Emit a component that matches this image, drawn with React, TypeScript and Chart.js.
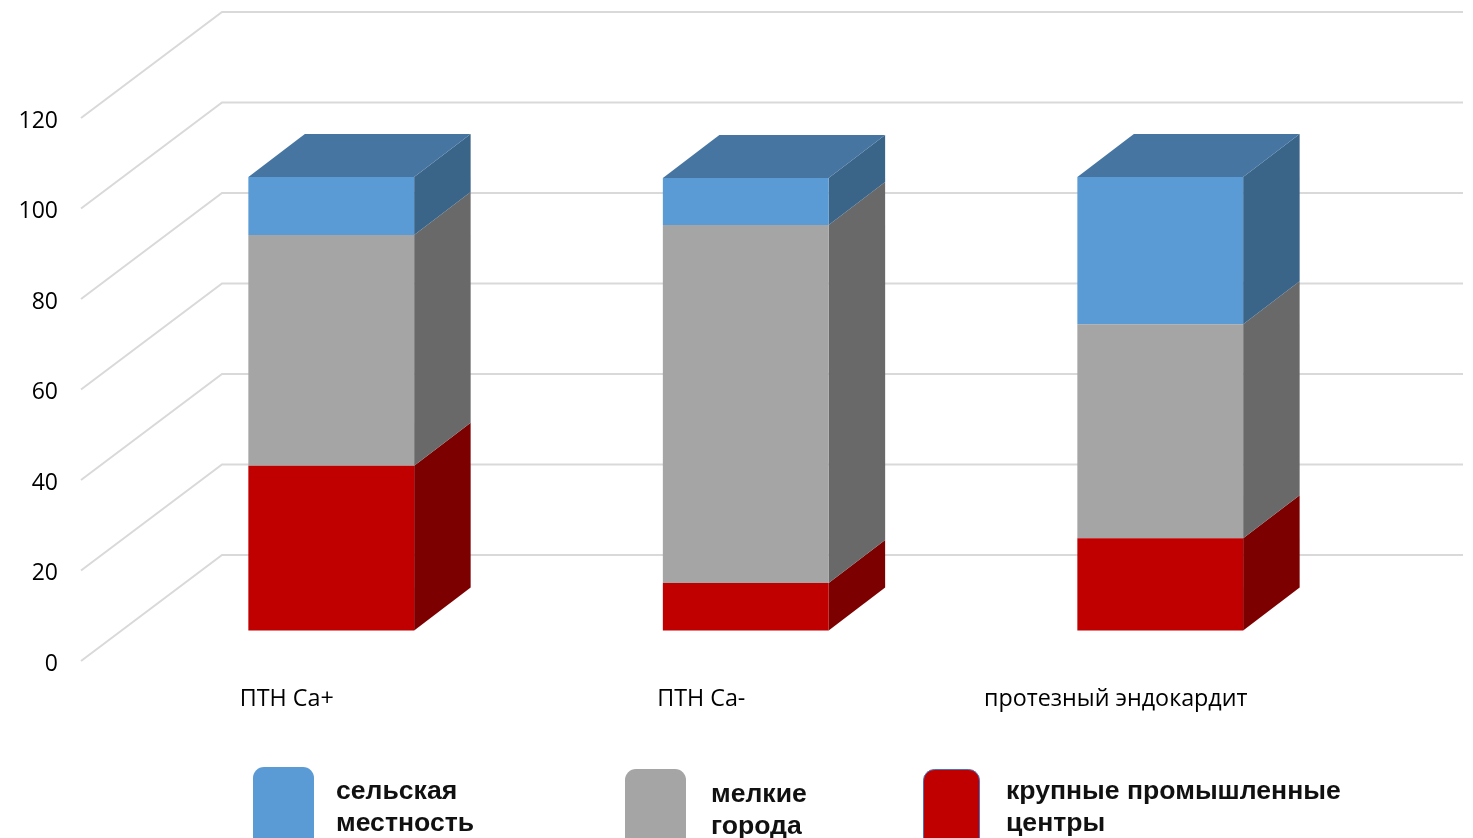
import React, { useEffect, useRef } from "react";
import { Chart, registerables } from "chart.js";

Chart.register(...registerables);

const categories = ["ПТН Ca+", "ПТН Ca-", "протезный эндокардит"];
const industrialCentres = [36.4, 10.5, 20.4];
const smallTowns = [51, 79.1, 47.3];
const countryside = [12.8, 10.4, 32.5];

const seriesLabels = ["крупные промышленные центры", "мелкие города", "сельская местность"];
const frontColors = ["#C00000", "#A5A5A5", "#5B9BD5"];
const sideColors = ["#7C0000", "#696969", "#3A6488"];
const topColor = "#4675A1";

// Perspective of the floor and of the boxes standing on it.
const WALL_DX = 141;
const WALL_DY = 106;
const WALL_RIGHT = 1463;
const BOX_SHIFT_X = 43;
const BOX_SHIFT_Y = 30.5;
const BOX_DX = 56.5;
const BOX_DY = 43;

const legendEntries = [
  { series: 2, lines: ["сельская", "местность"], box: [253, 767, 61, 90], textX: 336, textY: 792, border: null },
  { series: 1, lines: ["мелкие", "города"], box: [625, 769, 61, 90], textX: 711, textY: 795, border: null },
  { series: 0, lines: ["крупные промышленные", "центры"], box: [923.5, 769.5, 56, 90], textX: 1006, textY: 792, border: "#4472C4" },
];

const poly = (ctx: CanvasRenderingContext2D, pts: number[][], fill: string) => {
  ctx.beginPath();
  pts.forEach(([x, y], i) => (i ? ctx.lineTo(x, y) : ctx.moveTo(x, y)));
  ctx.closePath();
  ctx.fillStyle = fill;
  ctx.fill();
};

const boxesAndWalls = {
  id: "boxesAndWalls",
  beforeDatasetsDraw(chart: any) {
    const { ctx, scales } = chart;
    const yScale = scales.y;
    const left = chart.chartArea.left;

    ctx.save();
    ctx.strokeStyle = "#D9D9D9";
    ctx.lineWidth = 2;
    yScale.ticks.forEach((t: any) => {
      const y = yScale.getPixelForValue(t.value);
      ctx.beginPath();
      ctx.moveTo(left, y);
      ctx.lineTo(left + WALL_DX, y - WALL_DY);
      ctx.lineTo(WALL_RIGHT, y - WALL_DY);
      ctx.stroke();
    });
    ctx.restore();

    // The saved state is restored in afterDatasetsDraw, so the bars share this shift.
    ctx.save();
    ctx.translate(BOX_SHIFT_X, -BOX_SHIFT_Y);
    const count = chart.data.datasets.length;
    for (let d = 0; d < count; d++) {
      chart.getDatasetMeta(d).data.forEach((bar: any) => {
        const { x, y, base, width } = bar.getProps(["x", "y", "base", "width"], true);
        const r = x + width / 2;
        poly(
          ctx,
          [[r, base], [r + BOX_DX, base - BOX_DY], [r + BOX_DX, y - BOX_DY], [r, y]],
          sideColors[d]
        );
        if (d === count - 1) {
          const l = x - width / 2;
          poly(ctx, [[l, y], [l + BOX_DX, y - BOX_DY], [r + BOX_DX, y - BOX_DY], [r, y]], topColor);
        }
      });
    }
  },
  afterDatasetsDraw(chart: any) {
    chart.ctx.restore();
  },
  afterDraw(chart: any) {
    const { ctx } = chart;
    ctx.save();
    ctx.textBaseline = "middle";
    ctx.textAlign = "left";
    ctx.font = "bold 26.6px 'Liberation Sans'";
    legendEntries.forEach((e) => {
      const [x, y, w, h] = e.box;
      ctx.beginPath();
      ctx.roundRect(x, y, w, h, 11);
      ctx.fillStyle = frontColors[e.series];
      ctx.fill();
      if (e.border) {
        ctx.strokeStyle = e.border;
        ctx.lineWidth = 1;
        ctx.stroke();
      }
      ctx.fillStyle = "#111111";
      e.lines.forEach((line, i) => ctx.fillText(line, e.textX, e.textY + i * 32));
    });
    ctx.restore();
  },
};

export default function App() {
  const canvasRef = useRef<HTMLCanvasElement>(null);

  useEffect(() => {
    document.body.style.margin = "0";
    document.body.style.overflow = "hidden";
    const values = [industrialCentres, smallTowns, countryside];
    const chart = new Chart(canvasRef.current!, {
      type: "bar",
      data: {
        labels: categories,
        datasets: values.map((data, i) => ({
          label: seriesLabels[i],
          data,
          backgroundColor: frontColors[i],
          borderWidth: 0,
          categoryPercentage: 1,
          barPercentage: 0.4,
          clip: false as any,
        })),
      },
      options: {
        responsive: false,
        animation: false,
        layout: { padding: { top: 118, left: 0, right: 148.5, bottom: 0 } },
        plugins: { legend: { display: false }, tooltip: { enabled: false }, title: { display: false } },
        scales: {
          x: {
            stacked: true,
            grid: { display: false, drawTicks: false },
            border: { display: false },
            ticks: {
              padding: 24,
              labelOffset: -1.5,
              color: "#000000",
              maxRotation: 0,
              font: { family: "'Open Sans'", size: 23.3 },
            },
            afterFit: (s: any) => {
              s.height = 177;
            },
          },
          y: {
            stacked: true,
            min: 0,
            max: 120,
            grid: { display: false, drawTicks: false },
            border: { display: false },
            ticks: {
              stepSize: 20,
              padding: 23,
              labelOffset: 3,
              color: "#000000",
              font: { family: "'Open Sans'", size: 23 },
            },
            afterFit: (s: any) => {
              s.width = 81;
            },
          },
        },
      },
      plugins: [boxesAndWalls],
    });
    return () => chart.destroy();
  }, []);

  return <canvas ref={canvasRef} width={1473} height={838} style={{ display: "block" }} />;
}
